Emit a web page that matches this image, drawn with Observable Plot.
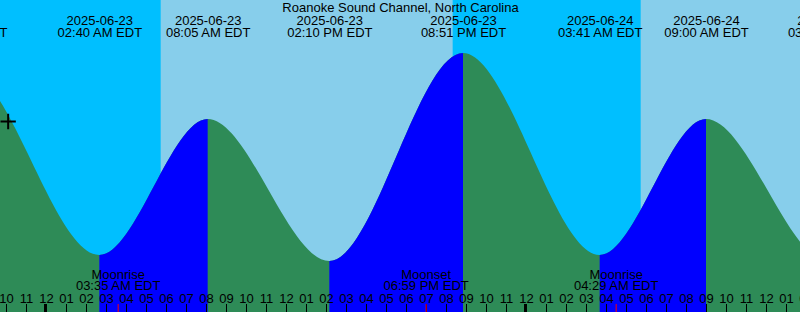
<!DOCTYPE html>
<html>
<head>
<meta charset="utf-8">
<script src="https://cdn.jsdelivr.net/npm/d3@7"></script>
<script src="https://cdn.jsdelivr.net/npm/@observablehq/plot@0.6"></script>
<style>
  html, body { margin: 0; padding: 0; background: #ffffff; }
  svg { display: block; }
</style>
</head>
<body>
<div id="chart"></div>
<script>
// ---- data ----
const title = "Roanoke Sound Channel, North Carolina";

// tide extremes (local EDT wall clock); first and last lie just outside the visible window
const tideTimes   = ["2025-06-22T13:20", "2025-06-22T19:55", "2025-06-23T02:40", "2025-06-23T08:05", "2025-06-23T14:10",
                     "2025-06-23T20:51", "2025-06-24T03:41", "2025-06-24T09:00", "2025-06-24T15:12", "2025-06-24T21:35"];
const tideHeights = [0.18, 1.13, 0.20, 0.88, 0.17, 1.21, 0.20, 0.88, 0.16, 1.20];
const tideDates   = ["2025-06-22", "2025-06-22", "2025-06-23", "2025-06-23", "2025-06-23",
                     "2025-06-23", "2025-06-24", "2025-06-24", "2025-06-24", "2025-06-24"];
const tideClock   = ["01:20 PM EDT", "07:55 PM EDT", "02:40 AM EDT", "08:05 AM EDT", "02:10 PM EDT",
                     "08:51 PM EDT", "03:41 AM EDT", "09:00 AM EDT", "03:12 PM EDT", "09:35 PM EDT"];

// daylight / night periods
const dayStart   = ["2025-06-23T05:44", "2025-06-24T05:44"];
const dayEnd     = ["2025-06-23T20:20", "2025-06-24T20:20"];
const nightStart = ["2025-06-22T20:20", "2025-06-23T20:20"];
const nightEnd   = ["2025-06-23T05:44", "2025-06-24T05:44"];

// moon events
const moonNames = ["Moonrise", "Moonset", "Moonrise"];
const moonTimes = ["2025-06-23T03:35", "2025-06-23T18:59", "2025-06-24T04:29"];
const moonClock = ["03:35 AM EDT", "06:59 PM EDT", "04:29 AM EDT"];

// current-time marker
const nowTime = ["2025-06-22T22:05"];
const nowHeight = [0.87];

// hour tick range
const hourFirst = "2025-06-22T21:00";
const hourLast  = "2025-06-24T15:00";

// ---- build tables ----
const parse = d3.utcParse("%Y-%m-%dT%H:%M");
const tides = tideTimes.map((t, i) => ({time: parse(t), height: tideHeights[i], date: tideDates[i], clock: tideClock[i]}));
const days = dayStart.map((s, i) => ({start: parse(s), end: parse(dayEnd[i])}));
const nights = nightStart.map((s, i) => ({start: parse(s), end: parse(nightEnd[i])}));
const moons = moonTimes.map((t, i) => ({time: parse(t), name: moonNames[i], clock: moonClock[i]}));
const now = nowTime.map((t, i) => ({time: parse(t), height: nowHeight[i]}));
const hours = d3.utcHour.range(parse(hourFirst), parse(hourLast));
const midnights = hours.filter(d => d.getUTCHours() === 0);
const fmtHour = d3.utcFormat("%I");
const rising = [];
for (let i = 0; i + 1 < tides.length; i++) {
  if (tides[i + 1].height > tides[i].height) rising.push([tides[i].time, tides[i + 1].time]);
}

const xDomain = [parse("2025-06-22T21:42"), parse("2025-06-24T13:42")];
const yDomain = [-0.085, 1.475];
// only label extremes near the visible window
const labelled = tides.filter(d => d.time > d3.utcHour.offset(xDomain[0], -4) && d.time < d3.utcHour.offset(xDomain[1], 4));

const chart = Plot.plot({
  width: 800,
  height: 312,
  margin: 0,
  x: {type: "utc", domain: xDomain, axis: null},
  y: {domain: yDomain, axis: null},
  style: {fontFamily: "'Liberation Sans', Arial, sans-serif", fontSize: "13px", background: "#87CEEB", overflow: "hidden", color: "black"},
  marks: [
    Plot.rect(days, {x1: "start", x2: "end", fill: "#87CEEB"}),
    Plot.rect(nights, {x1: "start", x2: "end", fill: "#00BFFF"}),
    Plot.areaY(tides, {x: "time", y1: yDomain[0], y2: "height", curve: "monotone-x", fill: "#2e8b57"}),
    Plot.areaY(tides, {x: "time", y1: yDomain[0], y2: "height", curve: "monotone-x", fill: "#0000ff"}),
    Plot.ruleX(hours, {x: d => d, insetTop: 304, stroke: "black"}),
    Plot.ruleX(midnights, {x: d => d, insetTop: 304, stroke: "black", strokeWidth: 3, dx: -1}),
    Plot.ruleX(moons, {x: "time", insetTop: 304, stroke: "red"}),
    Plot.text(hours, {x: d => d, text: d => fmtHour(d), frameAnchor: "bottom", lineAnchor: "bottom", dy: -10, fill: "black"}),
    Plot.text(moons, {x: "time", text: "name", frameAnchor: "bottom", lineAnchor: "bottom", dy: -33.5, fill: "black"}),
    Plot.text(moons, {x: "time", text: "clock", frameAnchor: "bottom", lineAnchor: "bottom", dy: -22.5, fill: "black"}),
    Plot.text(labelled, {x: "time", text: "date", frameAnchor: "top", lineAnchor: "bottom", dy: 24, fill: "black"}),
    Plot.text(labelled, {x: "time", text: "clock", frameAnchor: "top", lineAnchor: "bottom", dy: 36, fill: "black"}),
    Plot.text([title], {text: d => d, frameAnchor: "top", lineAnchor: "bottom", dy: 11.5, fill: "black"}),
    Plot.dot(now, {x: "time", y: "height", symbol: "plus", r: 5, stroke: "black", strokeWidth: 2})
  ]
});

// clip the flood (blue) fill to the rising intervals, using Plot's x scale
const xs = chart.scale("x");
const svg = d3.select(chart);
const clip = svg.insert("defs", ":first-child").append("clipPath").attr("id", "flood-clip");
for (const [a, b] of rising) {
  const xa = xs.apply(a), xb = xs.apply(b);
  clip.append("rect").attr("x", xa).attr("y", -10).attr("width", xb - xa).attr("height", 400);
}
svg.selectAll("g").filter(function () {
  return (this.getAttribute("fill") || "").toLowerCase() === "#0000ff";
}).selectAll("path").attr("clip-path", "url(#flood-clip)");

document.getElementById("chart").appendChild(chart);
</script>
</body>
</html>
